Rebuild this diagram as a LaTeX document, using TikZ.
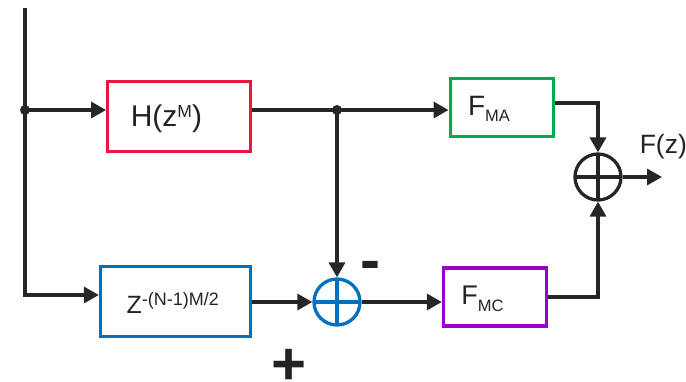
\documentclass[tikz,border=0pt]{standalone}
\usepackage{fontspec}
\setmainfont{Liberation Sans}
\usetikzlibrary{arrows.meta}
\definecolor{ln}{RGB}{38,38,38}
\definecolor{txt}{RGB}{35,35,35}
\definecolor{bred}{RGB}{234,22,62}
\definecolor{bgreen}{RGB}{0,170,80}
\definecolor{bblue}{RGB}{0,112,192}
\definecolor{bpurple}{RGB}{153,0,204}
\begin{document}
\begin{tikzpicture}[x=1pt,y=-1pt,
  wire/.style={draw=ln,line width=3.3pt},
  arr/.style={wire,-{Triangle[length=15pt,width=16pt]}},
  blk/.style={draw=#1,line width=3.3pt,inner sep=0pt,rectangle},
  sumnode/.style={circle,draw=#1,line width=3.3pt,minimum size=46pt,inner sep=0pt,
    path picture={\draw[#1,line width=3.3pt] (path picture bounding box.north) -- (path picture bounding box.south)
      (path picture bounding box.west) -- (path picture bounding box.east);}},
  dot/.style={circle,fill=ln,inner sep=0pt,minimum size=10pt},
  lbl/.style={text=txt,inner sep=0pt,anchor=base west},
  sgn/.style={text=txt,inner sep=0pt,font=\bfseries\fontsize{60}{60}\selectfont}
]
\useasboundingbox (0,0) rectangle (686,381);

% blocks
\node[blk=bred,minimum width=142.6pt,minimum height=69.6pt] (H) at (179,116.5) {};
\node[blk=bblue,minimum width=150pt,minimum height=70pt] (Z) at (175.5,301.5) {};
\node[blk=bgreen,minimum width=103pt,minimum height=58pt] (FMA) at (501.7,107.8) {};
\node[blk=bpurple,minimum width=103pt,minimum height=58pt] (FMC) at (495,297) {};
\node[sumnode=bblue] (sum1) at (337,302) {};
\node[sumnode=ln] (sum2) at (598,177) {};

% labels
\node[lbl,font=\fontsize{30}{30}\selectfont] (Ht) at (130.6,126.7)
  {H(z\raisebox{9.5pt}{\fontsize{17.5}{17.5}\selectfont M})};
\node[lbl,font=\fontsize{25}{25}\selectfont] (Zt) at (126.5,313.3)
  {Z\raisebox{8pt}{\fontsize{18}{18}\selectfont -(N-1)M/2}};
\node[lbl,font=\fontsize{28}{28}\selectfont] (FMAt) at (467.8,115)
  {F\raisebox{-6.7pt}{\fontsize{16.5}{16.5}\selectfont MA}};
\node[lbl,font=\fontsize{27}{27}\selectfont] (FMCt) at (461.2,304.3)
  {F\raisebox{-6.7pt}{\fontsize{16.5}{16.5}\selectfont MC}};
\node[lbl,font=\fontsize{26.5}{26.5}\selectfont] (Fz) at (639.6,153) {F(z)};
\node[sgn] (minus) at (370.5,271) {-};
\node[sgn] (plus) at (288.8,366.5) {+};

% connectors
\coordinate (top) at (25,8);
\node[dot] (s1) at (25,110) {};
\coordinate (bl) at (25,295);
\node[dot] (s2) at (337,110) {};
\coordinate (out) at (662,177);

\draw[arr] (top) -- (bl) -- (bl -| Z.west);
\draw[arr] (s1.center) -- (s1 -| H.west);
\draw[wire] (H.east |- s2) -- (s2.center);
\draw[arr] (s2.center) -- (s2 -| FMA.west);
\draw[arr] (s2.center) -- (sum1.north);
\draw[arr] (Z.east |- sum1) -- (sum1.west);
\draw[arr] (sum1.east) -- (sum1 -| FMC.west);
\draw[arr] ([yshift=4.8pt]FMA.east) -| (sum2.north);
\draw[arr] (FMC.east) -| (sum2.south);
\draw[arr] (sum2.east) -- (out);
\end{tikzpicture}
\end{document}
